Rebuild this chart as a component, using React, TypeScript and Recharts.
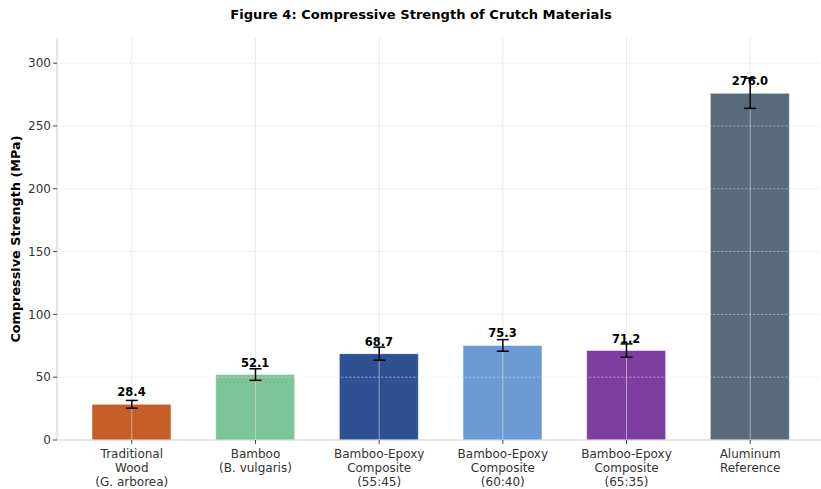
import React from "react";
import { ComposedChart, Bar, Scatter, XAxis, YAxis, ReferenceLine, ErrorBar, LabelList, Cell, Label } from "recharts";

const categories = [
  "Traditional\nWood\n(G. arborea)",
  "Bamboo\n(B. vulgaris)",
  "Bamboo-Epoxy\nComposite\n(55:45)",
  "Bamboo-Epoxy\nComposite\n(60:40)",
  "Bamboo-Epoxy\nComposite\n(65:35)",
  "Aluminum\nReference",
];
const strengths = [28.4, 52.1, 68.7, 75.3, 71.2, 276.0];
const errors = [3.1, 4.6, 5.2, 4.6, 5.3, 12.0];
const colors = ["#c55e27", "#7dc498", "#2d5193", "#6b9bd2", "#7c3e9f", "#596a7a"];
const yTicks = [0, 50, 100, 150, 200, 250, 300];

const data = categories.map((c, i) => ({ name: c, value: strengths[i], err: errors[i] }));

const FONT = "'DejaVu Sans', sans-serif";

const XTick = (props: any) => {
  const { x, y, payload } = props;
  const lines = String(payload.value).split("\n");
  return (
    <text x={x} y={y + 3} textAnchor="middle" fontSize={12} fill="#333" fontFamily={FONT}>
      {lines.map((l, i) => (
        <tspan key={i} x={x} dy={i === 0 ? "0.71em" : 14}>
          {l}
        </tspan>
      ))}
    </text>
  );
};

const NoShape = () => <g />;

export default function App() {
  return (
    <div style={{ position: "fixed", left: 0, top: 0, width: 821, height: 489, background: "#fff" }}>
      <div
        style={{
          position: "absolute",
          left: 0,
          width: 842,
          top: 7,
          textAlign: "center",
          fontFamily: FONT,
          fontWeight: "bold",
          fontSize: 13.1,
          color: "#000",
        }}
      >
        Figure 4: Compressive Strength of Crutch Materials
      </div>
      <ComposedChart
        width={821}
        height={489}
        data={data}
        margin={{ top: 38, right: 0, bottom: 4, left: 10 }}
        barCategoryGap={0}
      >
        <XAxis
          dataKey="name"
          interval={0}
          tick={<XTick />}
          tickLine={{ stroke: "#444" }}
          tickSize={4}
          axisLine={{ stroke: "#cccccc" }}
          height={45}
          padding={{ left: 13, right: 9 }}
        />
        <YAxis
          domain={[0, 320]}
          ticks={yTicks}
          width={47}
          tick={{ fontSize: 12, fill: "#333", fontFamily: FONT }}
          tickLine={{ stroke: "#444" }}
          tickSize={4}
          axisLine={{ stroke: "#cccccc" }}
        >
          <Label
            value="Compressive Strength (MPa)"
            angle={-90}
            position="insideLeft"
            dx={0}
            style={{ textAnchor: "middle", fontSize: 12.8, fontWeight: "bold", fill: "#000", fontFamily: FONT }}
          />
        </YAxis>
        <Bar dataKey="value" barSize={79} isAnimationActive={false} stroke="#ffffff" strokeOpacity={0.5} strokeWidth={1}>
          {data.map((d, i) => (
            <Cell key={i} fill={colors[i]} />
          ))}
          <LabelList
            dataKey="value"
            position="top"
            offset={8}
            formatter={(v: any) => Number(v).toFixed(1)}
            style={{ fontSize: 11.5, fontWeight: "bold", fill: "#000", fontFamily: FONT }}
          />
        </Bar>
        {yTicks.slice(1).map((t) => (
          <ReferenceLine key={"h" + t} y={t} stroke="#d8d8d8" strokeOpacity={0.55} strokeDasharray="2.5 1.5" ifOverflow="extendDomain" />
        ))}
        {categories.map((c) => (
          <ReferenceLine key={"v" + c} x={c} stroke="#dddddd" strokeOpacity={0.6} />
        ))}
        <Scatter dataKey="value" isAnimationActive={false} shape={<NoShape />} legendType="none">
          <ErrorBar dataKey="err" direction="y" width={6} stroke="#000" strokeWidth={1.5} />
        </Scatter>
      </ComposedChart>
    </div>
  );
}
